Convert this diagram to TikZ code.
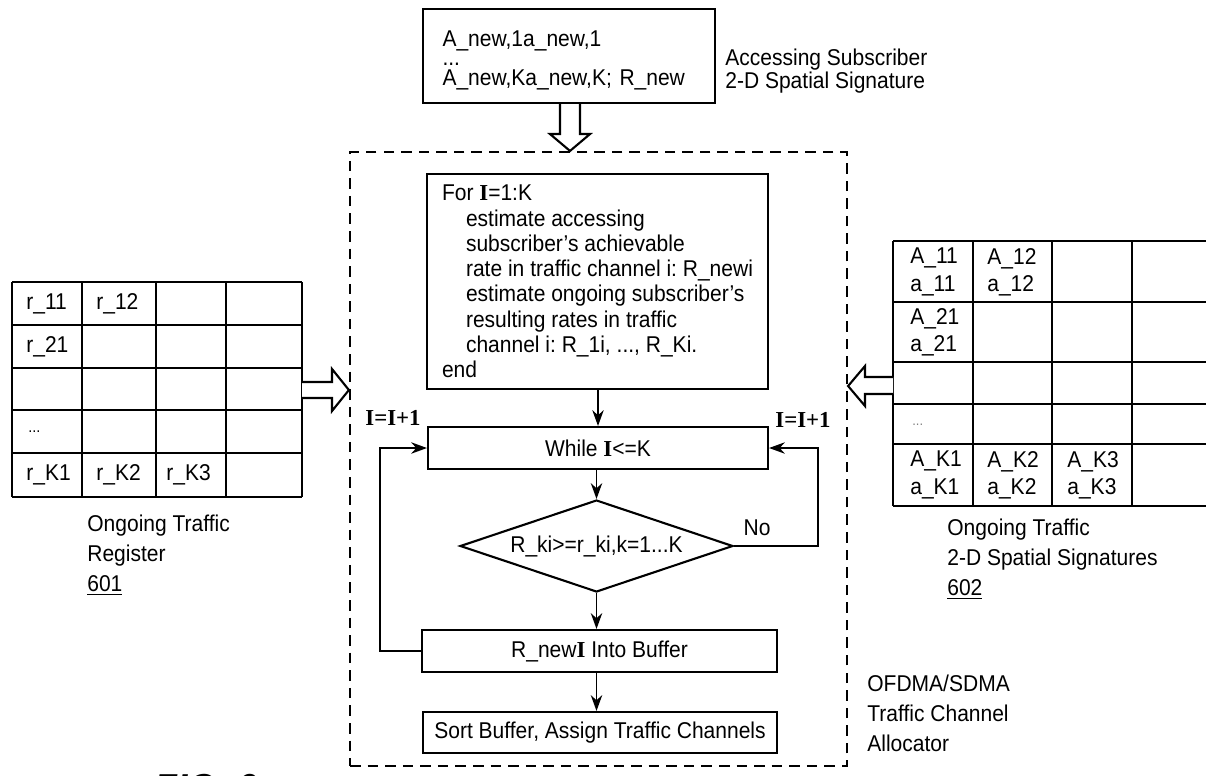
\documentclass[tikz,border=0pt]{standalone}
\usepackage{fontspec}
\setmainfont{Liberation Sans}[FakeStretch=0.92]
\newfontfamily\serifI{Liberation Serif}
\usetikzlibrary{shapes.geometric,arrows.meta,calc}
\newcommand{\II}{{\serifI\bfseries I}}
\begin{document}
\frenchspacing
\begin{tikzpicture}[x=0.02cm,y=-0.02cm,
  fnt/.style={font=\fontsize{13}{14.4}\selectfont},
  box/.style={draw, line width=1.2pt, fnt, inner sep=0pt},
  flow/.style={-{Stealth[length=9pt,width=6.5pt]}, line width=1pt},
  hollow/.style={draw, line width=1.2pt, fill=white, line join=miter},
  tgrid/.style={line width=1.1pt},
  lbl/.style={font=\fontsize{13}{17}\selectfont, align=left, anchor=west, inner sep=0pt},
  cell/.style={font=\fontsize{13}{15.5}\selectfont, anchor=west, inner sep=0pt, align=left},
  dashbox/.style={draw, dash pattern=on 6pt off 4pt, line width=1.3pt, inner sep=0pt}]
\useasboundingbox (0,0) rectangle (1206,775);

% dashed allocator frame
\node[dashbox, minimum width=9.94cm, minimum height=12.28cm] (alloc) at (598.5,459) {};

% top box
\node[box, minimum width=5.84cm, minimum height=1.88cm, text width=5.06cm, inner xsep=0.39cm, align=left] (acc) at (569,56)
 {\rule{0pt}{14pt}A\_new,1a\_new,1\\[-3.5pt]...\\[-3.1pt]A\_new,Ka\_new,K; R\_new};
\node[lbl, font=\fontsize{13}{13.5}\selectfont] (acclbl) at (725,71) {Accessing Subscriber\\2-D Spatial Signature};
\draw[hollow] ($(acc.south)+(-9,0)$) -- ++(0,30) -- ++(-10,0) -- ($(alloc.north)+(-28.5,0)$) -- ($(acc.south)+(21,30)$) -- ++(-10,0) -- ($(acc.south)+(11,0)$);

% flowchart
\node[box, minimum width=6.82cm, minimum height=4.3cm, align=left] (for) at (597.5,281.5)
 {For \II=1:K\\
  \hspace*{0.48cm}estimate accessing\\
  \hspace*{0.48cm}subscriber's achievable\\
  \hspace*{0.48cm}rate in traffic channel i: R\_newi\\
  \hspace*{0.48cm}estimate ongoing subscriber's\\
  \hspace*{0.48cm}resulting rates in traffic\\
  \hspace*{0.48cm}channel i: R\_1i, ..., R\_Ki.\\
  end};
\node[box, minimum width=6.8cm, minimum height=0.84cm] (while) at (598,448) {While \II<=K};
\node[box, diamond, aspect=3, minimum width=5.46cm, minimum height=1.84cm] (cond) at (596.5,546) {R\_ki>=r\_ki,k=1...K};
\node[box, minimum width=7.1cm, minimum height=0.84cm] (buf) at (599.5,651) {R\_new\II\ Into Buffer};
\node[box, minimum width=7.08cm, minimum height=0.82cm] (sort) at (600,732.5) {Sort Buffer, Assign Traffic Channels};

\draw[flow] (for.south -| while.north) -- (while.north);
\draw[flow] (while.south -| cond.north) -- (cond.north);
\draw[flow] (cond.south) -- (cond.south |- buf.north);
\draw[flow] (cond.south |- buf.south) -- (cond.south |- sort.north);

\coordinate (lloop) at (380,651);
\coordinate (rloop) at (818,546);
\draw[flow] (buf.west) -- (lloop) -- (lloop |- while.west) -- (while.west);
\draw[flow] (cond.east) -- (rloop) -- (rloop |- while.east) -- (while.east);
\node[font=\fontsize{13}{14}\selectfont\serifI\bfseries] (incl) at (393,418) {I=I+1};
\node[font=\fontsize{13}{14}\selectfont\serifI\bfseries] (incr) at (803,420) {I=I+1};
\node[fnt] (no) at (757,528) {No};

\node[lbl] (alloclbl) at (867,713) {OFDMA/SDMA\\Traffic Channel\\Allocator};

% left table (601)
\foreach \x in {12,82,156,226,302} \draw[tgrid] (\x,282) -- (\x,497);
\foreach \y in {282,325,368,410,453,497} \draw[tgrid] (12,\y) -- (302,\y);
\node[cell] (r11) at (26,304) {r\_11};
\node[cell] (r12) at (96,304) {r\_12};
\node[cell] (r21) at (26,347) {r\_21};
\node[cell, font=\fontsize{9}{10}\selectfont] (rdots) at (28,432) {...};
\node[cell] (rk1) at (26,475) {r\_K1};
\node[cell] (rk2) at (96,475) {r\_K2};
\node[cell] (rk3) at (166,475) {r\_K3};
\node[lbl] (reglbl) at (87,555) {Ongoing Traffic\\Register\\\underline{601}};
\draw[hollow] (302,382) -- (332,382) -- (332,369) -- (alloc.west |- 0,390) -- (332,411) -- (332,398) -- (302,398);

% right table (602)
\foreach \x in {893,973,1052,1132} \draw[tgrid] (\x,241) -- (\x,506);
\foreach \y in {241,302,362,404,444,506} \draw[tgrid] (893,\y) -- (1215,\y);
\node[cell] (a11) at (910,272) {A\_11\\a\_11};
\node[cell] (a12) at (987,272) {A\_12\\a\_12};
\node[cell] (a21) at (910,332) {A\_21\\a\_21};
\node[cell, font=\fontsize{8}{9}\selectfont, text=gray] (adots) at (912,425) {...};
\node[cell] (ak1) at (910,475) {A\_K1\\a\_K1};
\node[cell] (ak2) at (987,475) {A\_K2\\a\_K2};
\node[cell] (ak3) at (1067,475) {A\_K3\\a\_K3};
\node[lbl] (siglbl) at (947,559) {Ongoing Traffic\\2-D Spatial Signatures\\\underline{602}};
\draw[hollow] (893,377) -- (865,377) -- (865,366) -- (alloc.east |- 0,386) -- (865,406) -- (865,394) -- (893,394);

% figure caption (cut by the page edge)
\node[anchor=north west, inner sep=0pt, font=\fontsize{23}{23}\selectfont\bfseries\itshape] (fig) at (154,774) {FIG. 6};
\end{tikzpicture}
\end{document}
